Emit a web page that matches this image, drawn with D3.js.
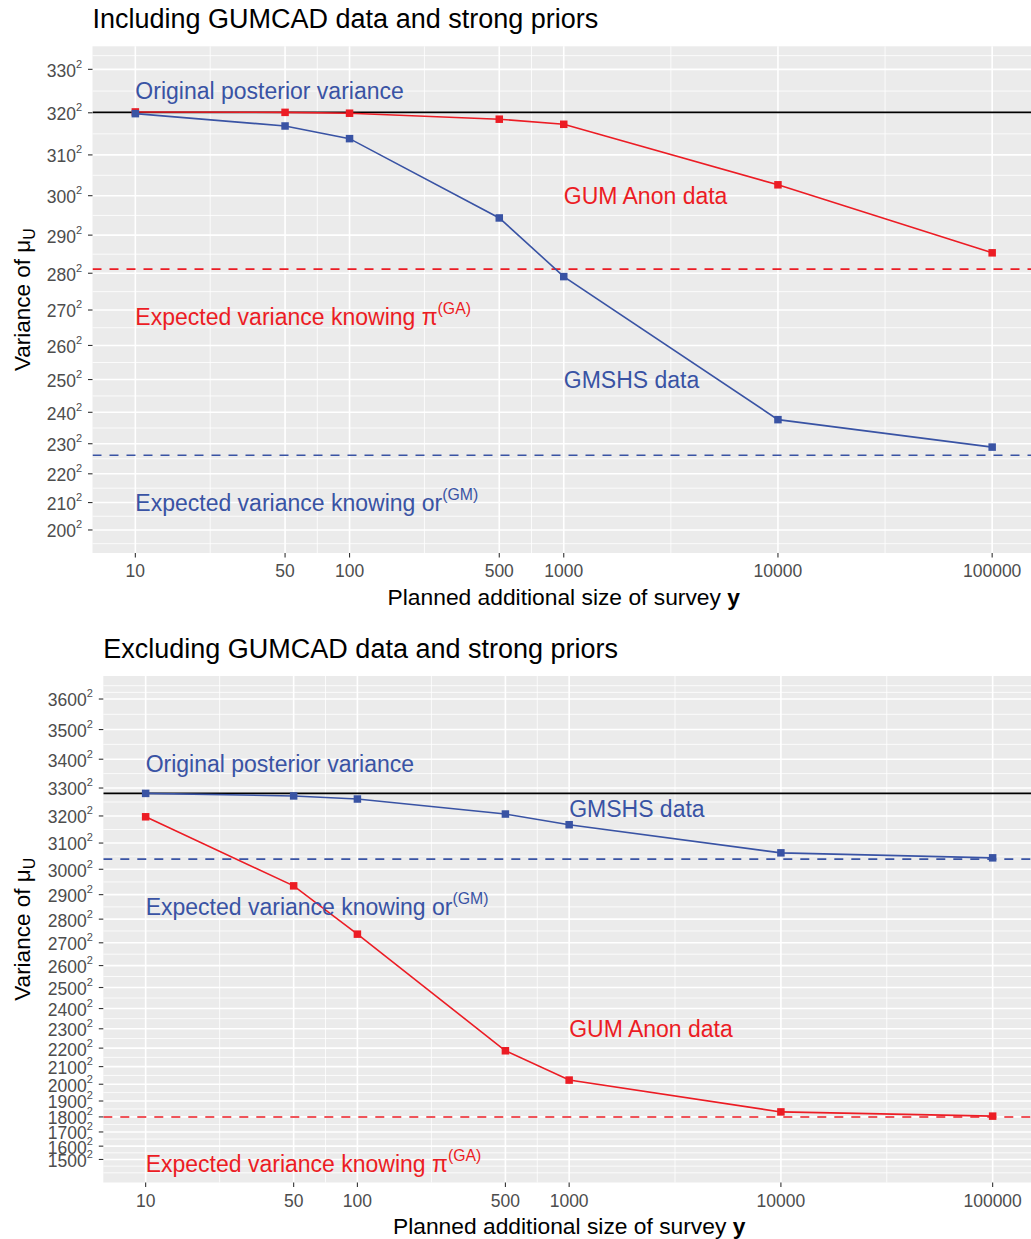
<!DOCTYPE html>
<html>
<head>
<meta charset="utf-8">
<script src="https://cdn.jsdelivr.net/npm/d3@7"></script>
<style>
  body { margin: 0; background: #ffffff; }
  svg text { font-family: "Liberation Sans", Arial, Helvetica, sans-serif; }
</style>
</head>
<body>
<svg id="chart" width="1031" height="1239"></svg>
<script>
// ---- data ---------------------------------------------------------------
// Planned additional survey sizes (x) and x-axis breaks
const surveySizes = [10, 50, 100, 500, 1000, 10000, 100000];
const xTickValues = [10, 50, 100, 500, 1000, 10000, 100000];

// Upper panel: including GUMCAD data and strong priors (posterior SD of mu_U)
const topGumAnonSd  = [320.2, 320.1, 319.9, 318.5, 317.3, 302.7, 285.4];
const topGmshsSd    = [319.8, 316.9, 313.9, 294.4, 279.1, 237.7, 228.9];
const topOriginalSd = 320.1;
const topExpectedGaSd = 281.1;
const topExpectedGmSd = 226.2;
const topYTickSd = [200, 210, 220, 230, 240, 250, 260, 270, 280, 290, 300, 310, 320, 330];
const topLabelSd = [325, 300, 268, 250, 210];

// Lower panel: excluding GUMCAD data and strong priors
const bottomGumAnonSd  = [3197, 2935, 2737, 2186, 2024, 1832, 1805];
const bottomGmshsSd    = [3281, 3272, 3261, 3207, 3168, 3063, 3044];
const bottomOriginalSd = 3281;
const bottomExpectedGaSd = 1799;
const bottomExpectedGmSd = 3039;
const bottomYTickSd = [1500, 1600, 1700, 1800, 1900, 2000, 2100, 2200, 2300, 2400,
                       2500, 2600, 2700, 2800, 2900, 3000, 3100, 3200, 3300, 3400, 3500, 3600];
const bottomLabelSd = [3385, 2300, 1463, 3226, 2850];

// ---- styling --------------------------------------------------------------
const RED = "#EC1C24";
const BLUE = "#3953A4";
const PANEL_BG = "#EBEBEB";
const TICK_COL = "#333333";
const TICK_TXT = "#4D4D4D";

const svg = d3.select("#chart");

function drawPanel(p, idx) {
  const logPad = 0.05 * (Math.log10(100000) - Math.log10(10));
  const x = d3.scaleLog()
    .domain([Math.pow(10, 1 - logPad), Math.pow(10, 5 + logPad)])
    .range([p.left, p.right]);

  // variance axis: linear in variance, breaks at squared SDs
  const lo = p.yTicksSd[0] ** 2;
  const hi = p.yTicksSd[p.yTicksSd.length - 1] ** 2;
  const pad = (hi - lo) * 0.05;
  const y = d3.scaleLinear().domain([lo - pad, hi + pad]).range([p.bottom, p.top]);
  const [dLo, dHi] = y.domain();

  const g = svg.append("g");

  // panel background
  g.append("rect")
    .attr("x", p.left).attr("y", p.top)
    .attr("width", p.right - p.left).attr("height", p.bottom - p.top)
    .attr("fill", PANEL_BG);

  // minor y grid (midpoints between squared breaks, extended one step)
  const majY = p.yTicksSd.map(s => s * s);
  const bd = majY[1] - majY[0];
  const ext = majY.slice();
  if (dLo < ext[0]) ext.unshift(ext[0] - bd);
  if (dHi > ext[ext.length - 1]) ext.push(ext[ext.length - 1] + bd);
  const minY = [];
  for (let i = 0; i < ext.length - 1; i++) minY.push((ext[i] + ext[i + 1]) / 2);
  ext.forEach(v => { if (!majY.includes(v)) minY.push(v); });
  g.selectAll(null).data(minY.filter(v => v > dLo && v < dHi)).enter().append("line")
    .attr("x1", p.left).attr("x2", p.right)
    .attr("y1", d => y(d)).attr("y2", d => y(d))
    .attr("stroke", "#ffffff").attr("stroke-width", 0.8);

  // minor x grid (midpoints in log space)
  const minX = [];
  for (let i = 0; i < xTickValues.length - 1; i++) {
    minX.push(Math.pow(10, (Math.log10(xTickValues[i]) + Math.log10(xTickValues[i + 1])) / 2));
  }
  g.selectAll(null).data(minX).enter().append("line")
    .attr("x1", d => x(d)).attr("x2", d => x(d))
    .attr("y1", p.top).attr("y2", p.bottom)
    .attr("stroke", "#ffffff").attr("stroke-width", 0.8);

  // major grid
  g.selectAll(null).data(majY).enter().append("line")
    .attr("x1", p.left).attr("x2", p.right)
    .attr("y1", d => y(d)).attr("y2", d => y(d))
    .attr("stroke", "#ffffff").attr("stroke-width", 1.6);
  g.selectAll(null).data(xTickValues).enter().append("line")
    .attr("x1", d => x(d)).attr("x2", d => x(d))
    .attr("y1", p.top).attr("y2", p.bottom)
    .attr("stroke", "#ffffff").attr("stroke-width", 1.6);

  // clip for data layers
  const clipId = "clip" + idx;
  svg.append("clipPath").attr("id", clipId).append("rect")
    .attr("x", p.left).attr("y", p.top)
    .attr("width", p.right - p.left).attr("height", p.bottom - p.top);
  const plot = g.append("g").attr("clip-path", `url(#${clipId})`);

  // reference lines
  const hline = (sd, col, dash) => {
    plot.append("line")
      .attr("x1", p.left).attr("x2", p.right)
      .attr("y1", y(sd * sd)).attr("y2", y(sd * sd))
      .attr("stroke", col).attr("stroke-width", 1.6)
      .attr("stroke-dasharray", dash || null);
  };
  hline(p.expectedGa, RED, "9,8");
  hline(p.expectedGm, BLUE, "9,8");
  hline(p.original, "#000000", null);

  // series
  const line = d3.line().x(d => x(d[0])).y(d => y(d[1] * d[1]));
  const series = [
    { sd: p.gumAnon, col: RED },
    { sd: p.gmshs, col: BLUE }
  ];
  series.forEach(s => {
    const pts = surveySizes.map((n, i) => [n, s.sd[i]]);
    plot.append("path").datum(pts)
      .attr("d", line).attr("fill", "none")
      .attr("stroke", s.col).attr("stroke-width", 1.6);
    const sq = 7.5;
    plot.selectAll(null).data(pts).enter().append("rect")
      .attr("x", d => x(d[0]) - sq / 2).attr("y", d => y(d[1] * d[1]) - sq / 2)
      .attr("width", sq).attr("height", sq)
      .attr("fill", s.col);
  });

  // annotations
  const labels = [
    { x: 10,   sd: p.labelSd[0], col: BLUE, text: "Original posterior variance" },
    { x: 1000, sd: p.labelSd[1], col: RED,  text: "GUM Anon data" },
    { x: 10,   sd: p.labelSd[2], col: RED,  text: "Expected variance knowing \u03C0", sup: "(GA)" },
    { x: 1000, sd: p.labelSd[3], col: BLUE, text: "GMSHS data" },
    { x: 10,   sd: p.labelSd[4], col: BLUE, text: "Expected variance knowing or", sup: "(GM)" }
  ];
  labels.forEach(l => {
    const t = plot.append("text")
      .attr("x", x(l.x)).attr("y", y(l.sd * l.sd) + 8)
      .attr("fill", l.col).attr("font-size", 23);
    t.append("tspan").text(l.text);
    if (l.sup) t.append("tspan").attr("dy", -11).attr("font-size", 15.8).text(l.sup);
  });

  // y axis ticks and labels
  g.selectAll(null).data(majY).enter().append("line")
    .attr("x1", p.left - 4.5).attr("x2", p.left)
    .attr("y1", d => y(d)).attr("y2", d => y(d))
    .attr("stroke", TICK_COL).attr("stroke-width", 1.1);
  p.yTicksSd.forEach(s => {
    const t = g.append("text")
      .attr("x", p.left - 10.5).attr("y", y(s * s) + 7.4)
      .attr("text-anchor", "end").attr("fill", TICK_TXT).attr("font-size", 17.5);
    t.append("tspan").text(s);
    t.append("tspan").attr("dy", -9).attr("font-size", 11).text("2");
  });

  // x axis ticks and labels
  g.selectAll(null).data(xTickValues).enter().append("line")
    .attr("x1", d => x(d)).attr("x2", d => x(d))
    .attr("y1", p.bottom).attr("y2", p.bottom + 4.5)
    .attr("stroke", TICK_COL).attr("stroke-width", 1.1);
  g.selectAll(null).data(xTickValues).enter().append("text")
    .attr("x", d => x(d)).attr("y", p.bottom + 24.2)
    .attr("text-anchor", "middle").attr("fill", TICK_TXT).attr("font-size", 17.5)
    .text(d => d3.format("d")(d));

  // axis titles
  const xt = g.append("text")
    .attr("x", (p.left + p.right) / 2).attr("y", p.bottom + 51.5)
    .attr("text-anchor", "middle").attr("fill", "#000").attr("font-size", 22.8);
  xt.append("tspan").text("Planned additional size of survey ");
  xt.append("tspan").attr("font-weight", "bold").text("y");

  const cy = (p.top + p.bottom) / 2;
  const yt = g.append("text")
    .attr("transform", `translate(30,${cy}) rotate(-90)`)
    .attr("text-anchor", "middle").attr("fill", "#000").attr("font-size", 22.5);
  yt.append("tspan").text("Variance of \u03BC");
  yt.append("tspan").attr("dy", 5).attr("font-size", 16).text("U");

  // panel title
  g.append("text")
    .attr("x", p.left).attr("y", p.titleY)
    .attr("fill", "#000").attr("font-size", 27)
    .text(p.title);
}

const panels = [
  {
    title: "Including GUMCAD data and strong priors",
    left: 92.5, right: 1035, top: 46.3, bottom: 553, titleY: 28,
    yTicksSd: topYTickSd,
    gumAnon: topGumAnonSd, gmshs: topGmshsSd,
    original: topOriginalSd, expectedGa: topExpectedGaSd, expectedGm: topExpectedGmSd,
    labelSd: topLabelSd
  },
  {
    title: "Excluding GUMCAD data and strong priors",
    left: 103.3, right: 1035, top: 676, bottom: 1182.5, titleY: 658,
    yTicksSd: bottomYTickSd,
    gumAnon: bottomGumAnonSd, gmshs: bottomGmshsSd,
    original: bottomOriginalSd, expectedGa: bottomExpectedGaSd, expectedGm: bottomExpectedGmSd,
    labelSd: bottomLabelSd
  }
];

panels.forEach(drawPanel);
</script>
</body>
</html>
